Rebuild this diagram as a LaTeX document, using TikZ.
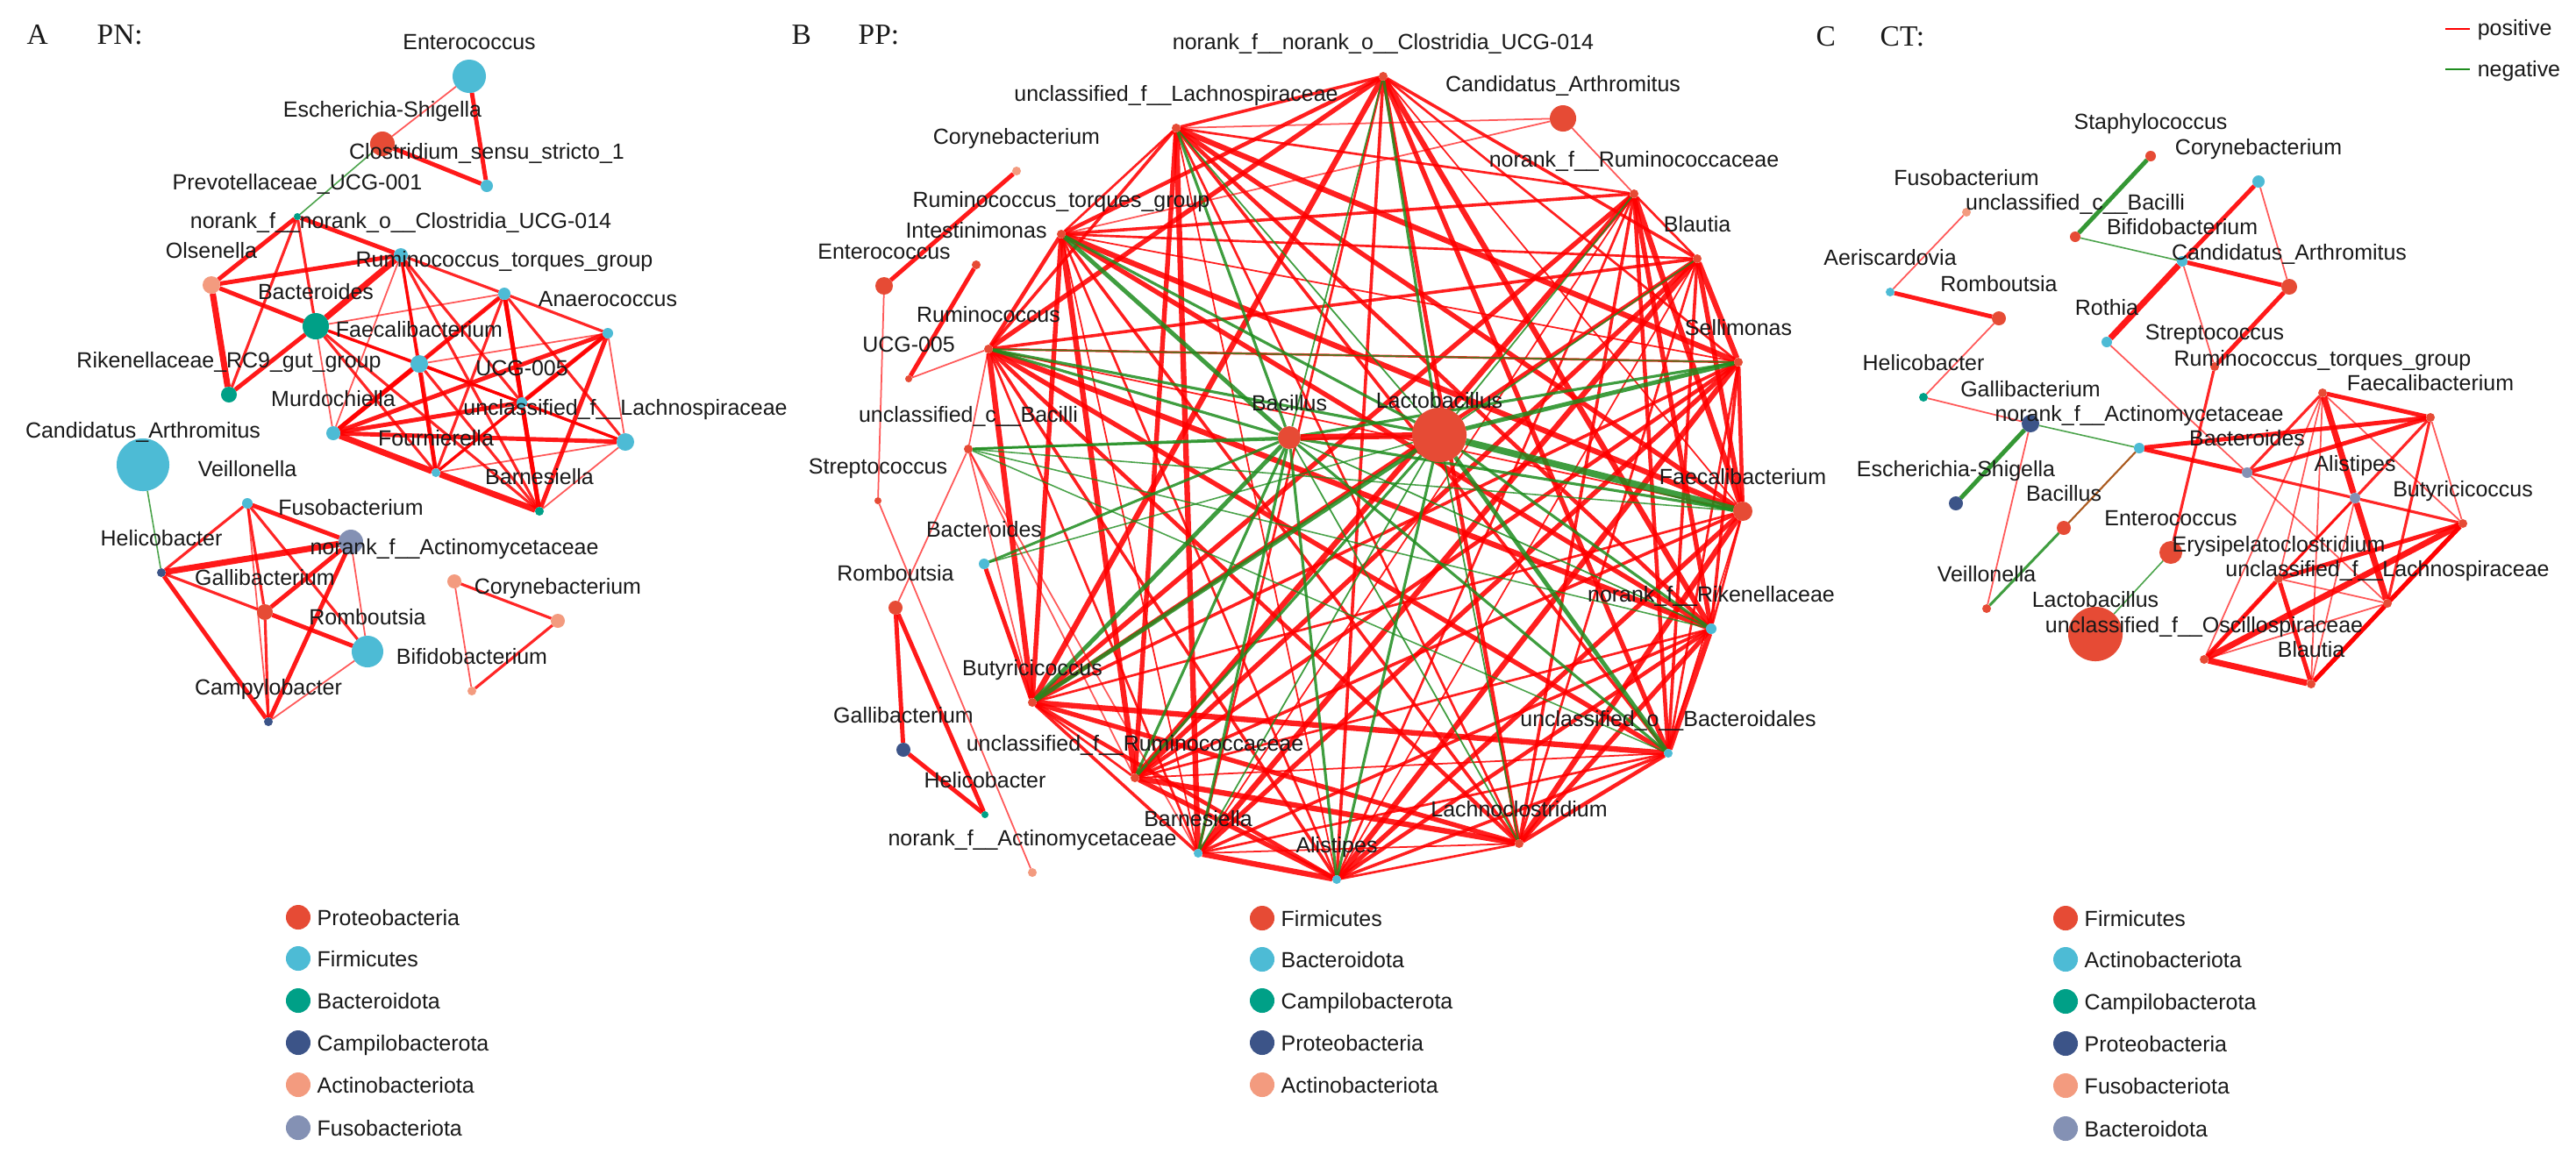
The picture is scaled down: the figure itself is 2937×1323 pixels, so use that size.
\documentclass[tikz,border=0pt]{standalone}
\usepackage{fontspec}
\setmainfont{Liberation Sans}
\newfontfamily\serifT{Liberation Serif}
\pgfdeclarelayer{bg}
\pgfdeclarelayer{edges}
\pgfdeclarelayer{fg}
\pgfsetlayers{bg,edges,main,fg}
\definecolor{cR}{HTML}{E64B35}
\definecolor{cB}{HTML}{4DBBD5}
\definecolor{cT}{HTML}{00A087}
\definecolor{cD}{HTML}{3C5488}
\definecolor{cS}{HTML}{F39B7F}
\definecolor{cP}{HTML}{8491B4}
\definecolor{pos}{RGB}{255,0,0}
\definecolor{neg}{RGB}{30,140,30}
\definecolor{mix}{RGB}{170,90,30}
\definecolor{txt}{RGB}{25,25,25}
\tikzset{
  nd/.style={circle, draw=none, inner sep=0pt, outer sep=0pt},
  lbl/.style={font=\fontsize{7.1pt}{8.5pt}\selectfont, text=txt, inner sep=0pt, anchor=base},
  ttl/.style={font=\serifT\fontsize{9.5pt}{11pt}\selectfont, text=txt, inner sep=0pt, anchor=base west},
  lgt/.style={font=\fontsize{7.1pt}{8.5pt}\selectfont, text=txt, inner sep=0pt, anchor=base west},
  rA/.style={draw=pos, line width=0.5pt, opacity=0.65},
  rB/.style={draw=pos, line width=0.9pt, opacity=0.85},
  rC/.style={draw=pos, line width=1.4pt, opacity=0.9},
  rD/.style={draw=pos, line width=2pt, opacity=0.9},
  gA/.style={draw=neg, line width=0.45pt, opacity=0.8},
  gB/.style={draw=neg, line width=0.85pt, opacity=0.85},
  gC/.style={draw=neg, line width=1.4pt, opacity=0.9},
  xA/.style={draw=mix, line width=0.6pt},
}
\newcommand\gnode[6]{%
  \node[nd, fill=#5, minimum size=#4*0.02cm] (#1) at (#2,#3) {};
  \begin{pgfonlayer}{fg}\node[lbl] (#1-t) at (#2,#3-31) {#6};\end{pgfonlayer}}
\newcommand\legitem[5]{%
  \node[nd, fill=#4, minimum size=0.28cm] (#1) at (#2,#3) {};
  \node[lgt] (#1-t) at (#2+21,#3+9) {#5};}
\newcommand\ed[3]{\draw[#1] (#2) -- (#3);}
\begin{document}
\begin{tikzpicture}[x=0.01cm, y=-0.01cm]
\begin{pgfonlayer}{bg}\fill[white] (0,0) rectangle (2937,1323);\end{pgfonlayer}
\useasboundingbox (0,0) rectangle (2937,1323);

% ---------------- titles
\node[ttl] (tA) at (30,50) {A};
\node[ttl] (tPN) at (110,50) {PN:};
\node[ttl] (tB) at (902,50) {B};
\node[ttl] (tPP) at (978,50) {PP:};
\node[ttl] (tC) at (2070,52) {C};
\node[ttl] (tCT) at (2143,52) {CT:};

% ---------------- panel A nodes
\gnode{aEnt}{535}{87}{19}{cB}{Enterococcus}
\gnode{aEsc}{436}{164}{14}{cR}{Escherichia-Shigella}
\gnode{aClo}{555}{212}{7}{cB}{Clostridium\_sensu\_stricto\_1}
\gnode{aPre}{339}{247}{4}{cT}{Prevotellaceae\_UCG-001}
\gnode{aNor}{457}{291}{8}{cB}{norank\_f\_\_norank\_o\_\_Clostridia\_UCG-014}
\gnode{aOls}{241}{325}{10}{cS}{Olsenella}
\gnode{aRum}{575}{335}{7}{cB}{Ruminococcus\_torques\_group}
\gnode{aBac}{360}{372}{15}{cT}{Bacteroides}
\gnode{aAna}{693}{380}{6}{cB}{Anaerococcus}
\gnode{aFae}{478}{415}{10}{cB}{Faecalibacterium}
\gnode{aRik}{261}{450}{9}{cT}{Rikenellaceae\_RC9\_gut\_group}
\gnode{aUCG}{595}{459}{6}{cB}{UCG-005}
\gnode{aMur}{380}{494}{8}{cB}{Murdochiella}
\gnode{aLac}{713}{504}{10}{cB}{unclassified\_f\_\_Lachnospiraceae}
\gnode{aFou}{497}{539}{5}{cB}{Fournierella}
\gnode{aBar}{615}{583}{5}{cT}{Barnesiella}
\gnode{aCan}{163}{530}{30}{cB}{Candidatus\_Arthromitus}
\gnode{aVei}{282}{574}{6}{cB}{Veillonella}
\gnode{aFus}{400}{618}{14}{cP}{Fusobacterium}
\gnode{aHel}{184}{653}{5}{cD}{Helicobacter}
\gnode{aAct}{518}{663}{8}{cS}{norank\_f\_\_Actinomycetaceae}
\gnode{aGal}{302}{698}{9}{cR}{Gallibacterium}
\gnode{aCor}{636}{708}{8}{cS}{Corynebacterium}
\gnode{aRom}{419}{743}{18}{cB}{Romboutsia}
\gnode{aBif}{538}{788}{5}{cS}{Bifidobacterium}
\gnode{aCam}{306}{823}{5}{cD}{Campylobacter}

% ---------------- panel B nodes
\gnode{b1}{1577}{87}{5}{cR}{norank\_f\_\_norank\_o\_\_Clostridia\_UCG-014}
\gnode{bCan}{1782}{135}{15}{cR}{Candidatus\_Arthromitus}
\gnode{b15}{1341}{146}{5}{cR}{unclassified\_f\_\_Lachnospiraceae}
\gnode{bCor}{1159}{195}{5}{cS}{Corynebacterium}
\gnode{b2}{1863}{221}{5}{cR}{norank\_f\_\_Ruminococcaceae}
\gnode{b14}{1210}{267}{5}{cR}{Ruminococcus\_torques\_group}
\gnode{b3}{1935}{295}{5}{cR}{Blautia}
\gnode{bInt}{1113}{302}{5}{cR}{Intestinimonas}
\gnode{bEnt}{1008}{326}{10}{cR}{Enterococcus}
\gnode{b13}{1127}{398}{5}{cR}{Ruminococcus}
\gnode{bUCG}{1036}{432}{4}{cR}{UCG-005}
\gnode{b4}{1982}{413}{5}{cR}{Sellimonas}
\gnode{bBac}{1470}{499}{13}{cR}{Bacillus}
\gnode{bLac}{1641}{496}{31}{cR}{Lactobacillus}
\gnode{bBci}{1104}{512}{5}{cR}{unclassified\_c\_\_Bacilli}
\gnode{bStr}{1001}{571}{4}{cR}{Streptococcus}
\gnode{b5}{1987}{583}{11}{cR}{Faecalibacterium}
\gnode{bBat}{1122}{643}{6}{cB}{Bacteroides}
\gnode{bRom}{1021}{693}{8}{cR}{Romboutsia}
\gnode{b6}{1951}{717}{6}{cB}{norank\_f\_\_Rikenellaceae}
\gnode{b12}{1177}{801}{5}{cR}{Butyricicoccus}
\gnode{b7}{1902}{859}{5}{cB}{unclassified\_o\_\_Bacteroidales}
\gnode{bGal}{1030}{855}{8}{cD}{Gallibacterium}
\gnode{b11}{1294}{887}{5}{cR}{unclassified\_f\_\_Ruminococcaceae}
\gnode{bHel}{1123}{929}{4}{cT}{Helicobacter}
\gnode{b8}{1732}{962}{5}{cR}{Lachnoclostridium}
\gnode{b10}{1366}{973}{5}{cB}{Barnesiella}
\gnode{bAct}{1177}{995}{5}{cS}{norank\_f\_\_Actinomycetaceae}
\gnode{b9}{1524}{1003}{5}{cB}{Alistipes}

% ---------------- panel C nodes
\gnode{cSta}{2452}{178}{6}{cR}{Staphylococcus}
\gnode{cCor}{2575}{207}{7}{cB}{Corynebacterium}
\gnode{cFus}{2242}{242}{5}{cS}{Fusobacterium}
\gnode{cuBa}{2366}{270}{6}{cR}{unclassified\_c\_\_Bacilli}
\gnode{cBif}{2488}{298}{6}{cB}{Bifidobacterium}
\gnode{cCan}{2610}{327}{9}{cR}{Candidatus\_Arthromitus}
\gnode{cAer}{2155}{333}{5}{cB}{Aeriscardovia}
\gnode{cRom}{2279}{363}{8}{cR}{Romboutsia}
\gnode{cRot}{2402}{390}{6}{cB}{Rothia}
\gnode{cStr}{2525}{418}{5}{cR}{Streptococcus}
\gnode{cRum}{2648}{448}{5}{cR}{Ruminococcus\_torques\_group}
\gnode{cHel}{2193}{453}{5}{cT}{Helicobacter}
\gnode{cGal}{2315}{483}{10}{cD}{Gallibacterium}
\gnode{cFae}{2771}{476}{5}{cR}{Faecalibacterium}
\gnode{cAct}{2439}{511}{6}{cB}{norank\_f\_\_Actinomycetaceae}
\gnode{cBat}{2562}{539}{6}{cP}{Bacteroides}
\gnode{cEsc}{2230}{574}{8}{cD}{Escherichia-Shigella}
\gnode{cAli}{2685}{568}{6}{cP}{Alistipes}
\gnode{cBas}{2353}{602}{8}{cR}{Bacillus}
\gnode{cBut}{2808}{597}{5}{cR}{Butyricicoccus}
\gnode{cEnt}{2475}{630}{13}{cR}{Enterococcus}
\gnode{cEry}{2598}{660}{5}{cR}{Erysipelatoclostridium}
\gnode{cuLa}{2722}{688}{5}{cR}{unclassified\_f\_\_Lachnospiraceae}
\gnode{cVei}{2265}{694}{5}{cR}{Veillonella}
\gnode{cLac}{2389}{723}{31}{cR}{Lactobacillus}
\gnode{cOsc}{2513}{752}{5}{cR}{unclassified\_f\_\_Oscillospiraceae}
\gnode{cBla}{2635}{780}{5}{cR}{Blautia}

% ---------------- edges
\begin{pgfonlayer}{edges}
% panel A top
\ed{rA}{aEnt}{aEsc}
\ed{rC}{aEnt}{aClo}
\ed{rC}{aEsc}{aClo}
\ed{gA}{aEsc}{aPre}
% panel A main cluster
\ed{rC}{aPre}{aOls}
\ed{rB}{aPre}{aRik}
\ed{rB}{aPre}{aBac}
\ed{rC}{aPre}{aNor}
\ed{rC}{aOls}{aNor}
\ed{rC}{aOls}{aBac}
\ed{rD}{aOls}{aRik}
\ed{rD}{aNor}{aBac}
\ed{rC}{aBac}{aRik}
\ed{rA}{aBac}{aRum}
\ed{rB}{aNor}{aRum}
\ed{rB}{aNor}{aFae}
\ed{rA}{aNor}{aMur}
\ed{rB}{aNor}{aUCG}
\ed{rB}{aNor}{aFou}
\ed{rB}{aNor}{aBar}
\ed{rB}{aBac}{aFae}
\ed{rA}{aBac}{aMur}
\ed{rB}{aBac}{aFou}
\ed{rB}{aBac}{aUCG}
\ed{rB}{aBac}{aBar}
\ed{rB}{aRum}{aAna}
\ed{rC}{aRum}{aMur}
\ed{rC}{aRum}{aUCG}
\ed{rB}{aRum}{aFou}
\ed{rC}{aRum}{aBar}
\ed{rB}{aRum}{aLac}
\ed{rA}{aRum}{aFae}
\ed{rA}{aAna}{aFae}
\ed{rC}{aAna}{aMur}
\ed{rC}{aAna}{aUCG}
\ed{rB}{aAna}{aFou}
\ed{rC}{aAna}{aBar}
\ed{rA}{aAna}{aLac}
\ed{rC}{aFae}{aMur}
\ed{rB}{aFae}{aUCG}
\ed{rC}{aFae}{aFou}
\ed{rB}{aFae}{aLac}
\ed{rB}{aFae}{aBar}
\ed{rC}{aUCG}{aMur}
\ed{rB}{aUCG}{aLac}
\ed{rB}{aUCG}{aFou}
\ed{rC}{aUCG}{aBar}
\ed{rD}{aMur}{aFou}
\ed{rC}{aMur}{aLac}
\ed{rD}{aFou}{aBar}
\ed{rA}{aFou}{aLac}
\ed{rA}{aLac}{aBar}
% panel A lower clusters
\ed{rB}{aVei}{aHel}
\ed{rC}{aVei}{aFus}
\ed{rB}{aVei}{aGal}
\ed{rB}{aVei}{aRom}
\ed{rA}{aVei}{aCam}
\ed{rD}{aHel}{aFus}
\ed{rB}{aHel}{aGal}
\ed{rC}{aHel}{aCam}
\ed{rC}{aFus}{aGal}
\ed{rA}{aFus}{aRom}
\ed{rC}{aFus}{aCam}
\ed{rC}{aGal}{aRom}
\ed{rB}{aGal}{aCam}
\ed{rA}{aRom}{aCam}
\ed{gA}{aCan}{aHel}
\ed{rB}{aAct}{aCor}
\ed{rA}{aAct}{aBif}
\ed{rB}{aCor}{aBif}

% panel B: dense positive mesh among the ring nodes
\foreach \i [evaluate=\i as \ni using int(\i+1)] in {1,...,14}{
  \foreach \j in {\ni,...,15}{
    \pgfmathtruncatemacro\sk{mod(\i*13+\j*7,9)}
    \pgfmathsetmacro\w{0.5+0.26*mod(\i*5+\j*11,6)}
    \ifnum\sk=0\relax\else
      \draw[draw=pos, opacity=0.88, line width=\w pt] (b\i) -- (b\j);
    \fi
  }
}
% panel B: negative edges of Bacillus and Lactobacillus
\foreach \k/\w in {1/0.5,4/0.9,5/0.9,6/0.5,7/0.9,8/0.5,9/0.9,10/0.9,11/0.9,12/1.4,13/0.9,14/1.4,15/0.9}{
  \draw[draw=neg, opacity=0.85, line width=\w pt] (bBac) -- (b\k);}
\foreach \k/\w in {1/0.9,2/0.5,3/0.5,4/1.4,5/2.2,6/0.9,7/1.4,8/0.5,9/0.9,10/0.5,11/0.9,12/1.4,13/0.9,14/0.9,15/0.5}{
  \draw[draw=neg, opacity=0.85, line width=\w pt] (bLac) -- (b\k);}
\ed{gB}{bBac}{bBci}
\ed{gA}{bLac}{bBci}
\ed{gB}{bBac}{bBat}
\ed{gA}{bLac}{bBat}
\ed{gA}{bBci}{b6}
\ed{gA}{bBci}{b7}
\ed{gA}{bBci}{b5}
\ed{gA}{b13}{b4}
% panel B: other positive edges
\ed{rD}{bBac}{bLac}
\ed{rC}{bBat}{b12}
\ed{rA}{bBci}{b12}
\ed{rA}{bBci}{b11}
\ed{rA}{bBci}{b10}
\ed{rA}{bBci}{b13}
\ed{rA}{bCan}{b15}
\ed{rA}{bCan}{b2}
\ed{rA}{bCan}{b14}
\ed{rC}{bCor}{bEnt}
\ed{rA}{bEnt}{bStr}
\ed{rA}{bStr}{bAct}
\ed{rC}{bInt}{bUCG}
\ed{rA}{bUCG}{b13}
\ed{rC}{bRom}{bGal}
\ed{rC}{bRom}{bHel}
\ed{rC}{bGal}{bHel}
\ed{rA}{bRom}{bBci}

% panel C
\ed{gC}{cSta}{cuBa}
\ed{gA}{cuBa}{cBif}
\ed{rC}{cCor}{cBif}
\ed{rD}{cBif}{cRot}
\ed{rA}{cCor}{cCan}
\ed{rC}{cBif}{cCan}
\ed{rC}{cCan}{cStr}
\ed{rA}{cBif}{cStr}
\ed{rA}{cRot}{cBat}
\ed{rB}{cStr}{cEnt}
\ed{rA}{cFus}{cAer}
\ed{rC}{cAer}{cRom}
\ed{rA}{cRom}{cHel}
\ed{rA}{cHel}{cGal}
\ed{gA}{cGal}{cAct}
\ed{gC}{cGal}{cEsc}
\ed{rA}{cGal}{cVei}
\ed{xA}{cAct}{cBas}
\ed{gB}{cBas}{cVei}
\ed{gA}{cEnt}{cLac}
\ed{rC}{cAct}{cBat}
\ed{rC}{cAct}{cFae}
\ed{rC}{cRum}{cFae}
\ed{rD}{cRum}{cAli}
\ed{rD}{cAli}{cuLa}
\ed{rB}{cRum}{cBat}
\ed{rA}{cRum}{cBut}
\ed{rA}{cRum}{cEry}
\ed{rA}{cRum}{cOsc}
\ed{rA}{cRum}{cBla}
\ed{rC}{cFae}{cBat}
\ed{rB}{cFae}{cAli}
\ed{rA}{cFae}{cBut}
\ed{rB}{cFae}{cuLa}
\ed{rB}{cBat}{cAli}
\ed{rB}{cAli}{cBut}
\ed{rA}{cBat}{cuLa}
\ed{rB}{cAli}{cEry}
\ed{rA}{cAli}{cOsc}
\ed{rA}{cAli}{cBla}
\ed{rC}{cBut}{cuLa}
\ed{rC}{cBut}{cEry}
\ed{rD}{cBut}{cOsc}
\ed{rC}{cBut}{cBla}
\ed{rA}{cEry}{cuLa}
\ed{rC}{cEry}{cOsc}
\ed{rC}{cEry}{cBla}
\ed{rA}{cuLa}{cOsc}
\ed{rC}{cuLa}{cBla}
\ed{rD}{cOsc}{cBla}
\end{pgfonlayer}

% ---------------- legends
\legitem{lA1}{340}{1046}{cR}{Proteobacteria}
\legitem{lA2}{340}{1093}{cB}{Firmicutes}
\legitem{lA3}{340}{1141}{cT}{Bacteroidota}
\legitem{lA4}{340}{1189}{cD}{Campilobacterota}
\legitem{lA5}{340}{1237}{cS}{Actinobacteriota}
\legitem{lA6}{340}{1286}{cP}{Fusobacteriota}

\legitem{lB1}{1439}{1047}{cR}{Firmicutes}
\legitem{lB2}{1439}{1094}{cB}{Bacteroidota}
\legitem{lB3}{1439}{1141}{cT}{Campilobacterota}
\legitem{lB4}{1439}{1189}{cD}{Proteobacteria}
\legitem{lB5}{1439}{1237}{cS}{Actinobacteriota}

\legitem{lC1}{2355}{1047}{cR}{Firmicutes}
\legitem{lC2}{2355}{1094}{cB}{Actinobacteriota}
\legitem{lC3}{2355}{1142}{cT}{Campilobacterota}
\legitem{lC4}{2355}{1190}{cD}{Proteobacteria}
\legitem{lC5}{2355}{1238}{cS}{Fusobacteriota}
\legitem{lC6}{2355}{1287}{cP}{Bacteroidota}

\coordinate (lp1) at (2788,33);
\coordinate (lp2) at (2816,33);
\coordinate (ln1) at (2788,79);
\coordinate (ln2) at (2816,79);
\draw[draw=pos, line width=0.7pt] (lp1) -- (lp2);
\draw[draw=neg, line width=0.7pt] (ln1) -- (ln2);
\node[lgt] (lpt) at (2824,40) {positive};
\node[lgt] (lnt) at (2824,87) {negative};
\end{tikzpicture}
\end{document}
